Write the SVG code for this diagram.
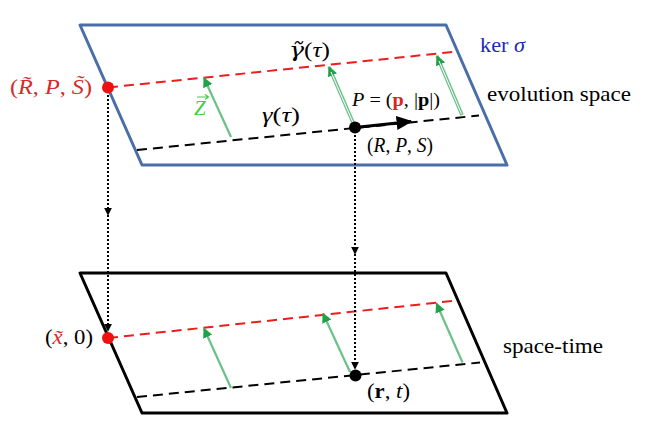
<svg xmlns="http://www.w3.org/2000/svg" width="645" height="446" viewBox="0 0 645 446">
<defs>
<style>
.plane-top{fill:none;stroke:#4a6ea8;stroke-width:3;stroke-linejoin:round}
.plane-bot{fill:none;stroke:#000;stroke-width:3;stroke-linejoin:round}
.red-d{stroke:#ee1c1c;stroke-width:2;stroke-dasharray:10 6;fill:none}
.blk-d{stroke:#000;stroke-width:2;stroke-dasharray:10 6;fill:none}
.dot{stroke:#000;stroke-width:2;stroke-dasharray:2 2;fill:none}
.gr{stroke:#6cc08a;stroke-width:2.2;fill:none}
.gr2{stroke:#6cc08a;stroke-width:3.5;fill:none}
.gr2w{stroke:#fff;stroke-width:1;fill:none}
.t{font-family:"Liberation Serif","DejaVu Serif",serif;font-weight:normal;fill:#000}
.dj{font-family:"DejaVu Serif",serif}
.it{font-style:italic}
</style>
<marker id="ag" viewBox="0 0 10 10" refX="9" refY="5" markerWidth="10" markerHeight="10" markerUnits="userSpaceOnUse" orient="auto"><path d="M0,0 L10,5 L0,10 z" fill="#22a14a"/></marker>
<marker id="ab" viewBox="0 0 10 10" refX="9" refY="5" markerWidth="8" markerHeight="8" markerUnits="userSpaceOnUse" orient="auto"><path d="M0,0 L10,5 L0,10 z" fill="#000"/></marker>
<marker id="abig" viewBox="0 0 10 10" refX="9" refY="5" markerWidth="16" markerHeight="14" markerUnits="userSpaceOnUse" orient="auto" preserveAspectRatio="none"><path d="M0,0 L10,5 L0,10 z" fill="#000"/></marker>
</defs>

<g id="evolution-space">
<polygon class="plane-top" points="80,25 446,25 507,165 142,165"/>
</g>
<g id="space-time-plane">
<polygon class="plane-bot" points="80,273 446,273 507,413 142,413"/>
</g>

<g id="curves">
<line class="red-d" x1="108" y1="87.5" x2="453" y2="52"/>
<line class="blk-d" x1="137" y1="150" x2="479" y2="115.5"/>
<line class="red-d" x1="108" y1="338" x2="452" y2="301"/>
<line class="blk-d" x1="137" y1="397" x2="480" y2="362.5"/>
</g>

<g id="connectors">
<path class="dot" d="M108,95 L108,215" marker-end="url(#ab)"/>
<path class="dot" d="M108,215 L108,331" marker-end="url(#ab)"/>
<path class="dot" d="M355,135 L355,254" marker-end="url(#ab)"/>
<path class="dot" d="M355,254 L355,369" marker-end="url(#ab)"/>
<line class="gr" x1="231" y1="137" x2="204" y2="78" marker-end="url(#ag)"/>
<line class="gr2" x1="355" y1="127" x2="329" y2="67" marker-end="url(#ag)"/>
<line class="gr2w" x1="354.5" y1="126" x2="331" y2="72"/>
<line class="gr2" x1="462" y1="115" x2="437" y2="56" marker-end="url(#ag)"/>
<line class="gr2w" x1="461.5" y1="114" x2="439" y2="61"/>
<line x1="355" y1="127.5" x2="411" y2="121.5" stroke="#000" stroke-width="3" marker-end="url(#abig)"/>
<line class="gr" x1="231" y1="388" x2="204" y2="328.5" marker-end="url(#ag)"/>
<line class="gr" x1="350" y1="372" x2="323" y2="313.5" marker-end="url(#ag)"/>
<line class="gr" x1="462.5" y1="362.5" x2="436.5" y2="303.5" marker-end="url(#ag)"/>
</g>

<g id="point-RPS-tilde">
<circle cx="108" cy="87.5" r="6" fill="#ee1111"/>
<text class="t" x="10" y="94" font-size="21" style="fill:#d42a2a" textLength="82" lengthAdjust="spacingAndGlyphs">(<tspan class="it">R̃</tspan>, <tspan class="it">P</tspan>, <tspan class="it">S̃</tspan>)</text>
</g>
<g id="point-RPS">
<circle cx="355" cy="127.5" r="6" fill="#000"/>
<text class="t" x="367" y="152" font-size="20" textLength="66" lengthAdjust="spacingAndGlyphs">(<tspan class="it">R</tspan>, <tspan class="it">P</tspan>, <tspan class="it">S</tspan>)</text>
</g>
<g id="point-x0">
<circle cx="108" cy="338" r="6" fill="#ee1111"/>
<text class="t" x="45" y="344" font-size="22" textLength="48" lengthAdjust="spacingAndGlyphs">(<tspan class="it" style="fill:#d42a2a">x̃</tspan>, 0)</text>
</g>
<g id="point-rt">
<circle cx="355.5" cy="375.5" r="6" fill="#000"/>
<text class="t" x="367" y="398" font-size="21" textLength="43" lengthAdjust="spacingAndGlyphs">(<tspan font-weight="bold">r</tspan>, <tspan class="it">t</tspan>)</text>
</g>

<g id="labels">
<text class="t" x="289" y="57" font-size="21" textLength="41" lengthAdjust="spacingAndGlyphs"><tspan class="it dj">γ̃</tspan>(<tspan class="it">τ</tspan>)</text>
<text class="t" x="262" y="122" font-size="21" textLength="38" lengthAdjust="spacingAndGlyphs"><tspan class="it">γ</tspan>(<tspan class="it">τ</tspan>)</text>
<text class="t it" x="194" y="115" font-size="21" style="fill:#44cc44">Z</text>
<path d="M197,97 L208,97 M205,94.5 L208.5,97 L205,99.5" fill="none" stroke="#44cc44" stroke-width="1.2"/>
<text class="t" x="352" y="106" font-size="18" textLength="88" lengthAdjust="spacingAndGlyphs"><tspan class="it">P</tspan> = (<tspan font-weight="bold" style="fill:#dd2222">p</tspan>, |<tspan font-weight="bold">p</tspan>|)</text>
<text class="t" x="480" y="52" font-size="21" style="fill:#1f2bb5" textLength="45" lengthAdjust="spacingAndGlyphs">ker <tspan class="it">σ</tspan></text>
<text class="t" x="487" y="101" font-size="21" textLength="144" lengthAdjust="spacingAndGlyphs">evolution space</text>
<text class="t" x="503" y="353" font-size="21" textLength="100" lengthAdjust="spacingAndGlyphs">space-time</text>
</g>
</svg>
